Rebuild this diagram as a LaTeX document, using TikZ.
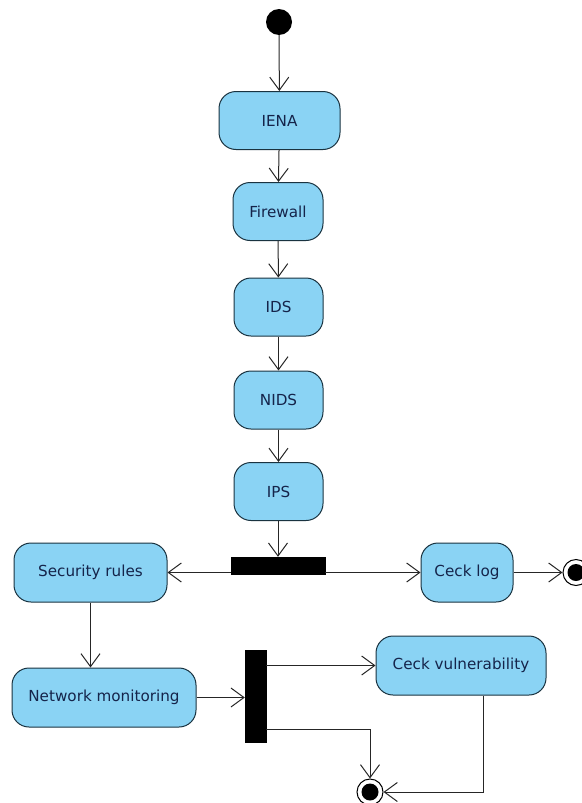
\documentclass[tikz,border=0pt]{standalone}
\usepackage{fontspec}
\setmainfont{DejaVu Sans}
\usetikzlibrary{arrows.meta,calc}
\definecolor{actfill}{HTML}{8AD3F4}
\definecolor{actline}{HTML}{1A3340}
\definecolor{acttext}{HTML}{15244A}
\tikzset{
  act/.style={draw=actline, line width=1pt, fill=actfill, rounded corners=17pt,
    minimum height=58pt, inner sep=2pt, font=\fontsize{15.2}{17}\selectfont, text=acttext},
  bar/.style={fill=black, draw=black, inner sep=0pt},
  flow/.style={draw=black!85, line width=1pt, -{Straight Barb[length=13pt,width=19pt,line width=1pt]}},
  startnode/.style={circle, fill=black, minimum size=26pt, inner sep=0pt},
  endnode/.style={circle, draw=black, line width=1pt, fill=white, minimum size=26pt, inner sep=0pt,
    path picture={\fill[black] (path picture bounding box.center) circle (8.5pt);}},
}
\begin{document}
\begin{tikzpicture}[x=1pt,y=-1pt]
\useasboundingbox (0,0) rectangle (581,803);

% main sequence
\node[startnode] (start) at (279,22) {};
\node[act, minimum width=121pt] (iena) at (279.5,120.5) {IENA};
\node[act, minimum width=90pt] (fw) at (278,211.5) {Firewall};
\node[act, minimum width=89pt] (ids) at (278.5,307) {IDS};
\node[act, minimum width=89pt] (nids) at (278.5,400) {NIDS};
\node[act, minimum width=89pt] (ips) at (278.5,491.5) {IPS};

% horizontal fork
\node[bar, minimum width=94pt, minimum height=17pt] (fork) at (278,565.5) {};
\node[act, minimum width=153pt, minimum height=59pt] (sec) at (90.5,572.5) {Security rules};
\node[act, minimum width=92pt, minimum height=59pt] (log) at (467,572.5) {Ceck log};
\node[endnode] (end1) at (576,572.5) {};

% lower branch
\node[act, minimum width=184pt, minimum height=59pt] (net) at (104,697.5) {Network monitoring};
\node[bar, minimum width=21pt, minimum height=92pt] (join) at (255.5,696) {};
\node[act, minimum width=170pt, minimum height=59pt] (vuln) at (461,665.5) {Ceck vulnerability};
\node[endnode] (end2) at (370,792) {};

\coordinate (joinlow) at ($(join.east)+(0,33)$);
\coordinate (vulnout) at ($(vuln.south)+(22,0)$);

% connectors
\draw[flow] (start) -- (iena);
\draw[flow] (iena) -- (fw);
\draw[flow] (fw) -- (ids);
\draw[flow] (ids) -- (nids);
\draw[flow] (nids) -- (ips);
\draw[flow] (ips.south -| fork.north) -- (fork.north);
\draw[flow] (fork.west |- sec.east) -- (sec.east);
\draw[flow] (fork.east |- log.west) -- (log.west);
\draw[flow] (log.east) -- (end1.west);
\draw[flow] (sec.south) -- (sec.south |- net.north);
\draw[flow] (net.east) -- (join.west |- net.east);
\draw[flow] (join.east |- vuln.west) -- (vuln.west);
\draw[flow] (joinlow) -| (end2.north);
\draw[flow] (vulnout) |- (end2.east);
\end{tikzpicture}
\end{document}
